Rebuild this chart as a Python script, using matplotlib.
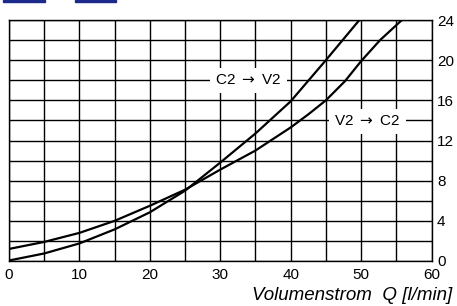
import numpy as np
import matplotlib
matplotlib.use("Agg")
import matplotlib.pyplot as plt
from matplotlib.patches import Rectangle

plt.rcParams['font.family'] = ['Liberation Sans', 'DejaVu Sans']
plt.rcParams['mathtext.fontset'] = 'dejavusans'

# Volumenstrom Q [l/min] and the two curves
q_c2v2 = [0, 5, 10, 15, 20, 25, 30, 35, 40, 45, 50]
p_c2v2 = [0.05, 0.75, 1.75, 3.15, 4.85, 7.0, 9.8, 12.7, 15.9, 20.0, 24.2]

q_v2c2 = [0, 5, 10, 15, 20, 25, 30, 35, 40, 42.5, 45, 47.7, 50, 52.7, 55.8, 56.2]
p_v2c2 = [1.2, 1.9, 2.8, 4.0, 5.5, 7.1, 9.1, 11.0, 13.3, 14.6, 16.0, 17.9, 19.9, 22.0, 24.0, 24.3]

x_ticks = [0, 10, 20, 30, 40, 50, 60]
y_ticks = [0, 4, 8, 12, 16, 20, 24]
label_c2v2 = r"C2 $\rightarrow$ V2"
label_v2c2 = r"V2 $\rightarrow$ C2"
x_label = "Volumenstrom  Q [l/min]"

fig = plt.figure(figsize=(4.57, 3.06), dpi=100)
ax = fig.add_axes([9 / 457, 1 - 261 / 306, 422.5 / 457, 241 / 306])

ax.set_xlim(0, 60)
ax.set_ylim(0, 24)
ax.set_xticks(x_ticks)
ax.set_yticks(y_ticks)
ax.set_xticks(np.arange(0, 61, 5), minor=True)
ax.set_yticks(np.arange(0, 25, 2), minor=True)
ax.grid(which='both', color='black', lw=1.0)
ax.set_axisbelow(True)
ax.yaxis.tick_right()
ax.tick_params(which='both', length=0)
ax.tick_params(axis='x', labelsize=11, pad=5)
ax.tick_params(axis='y', labelsize=11, pad=4)
for s in ax.spines.values():
    s.set_color('black')
    s.set_linewidth(1.0)

ax.plot(q_c2v2, p_c2v2, color='black', lw=1.6)
ax.plot(q_v2c2, p_v2c2, color='black', lw=1.6)

box = dict(facecolor='white', edgecolor='none', pad=4)
ax.text(34.0, 18.0, label_c2v2, fontsize=11, ha='center', va='center', bbox=box)
ax.text(50.9, 13.9, label_v2c2, fontsize=11, ha='center', va='center', bbox=box)

fig.text(452 / 457, 1 - 295 / 306, x_label, fontsize=13.5, style='italic',
         ha='right', va='center')

# link underlines cut off at the top edge
for x0, w in [(3, 42), (75, 41)]:
    fig.patches.append(Rectangle((x0 / 457, 1 - 2 / 306), w / 457, 2 / 306,
                                 transform=fig.transFigure, color='#1c2a8c'))

fig.savefig("out.png", dpi=100)
